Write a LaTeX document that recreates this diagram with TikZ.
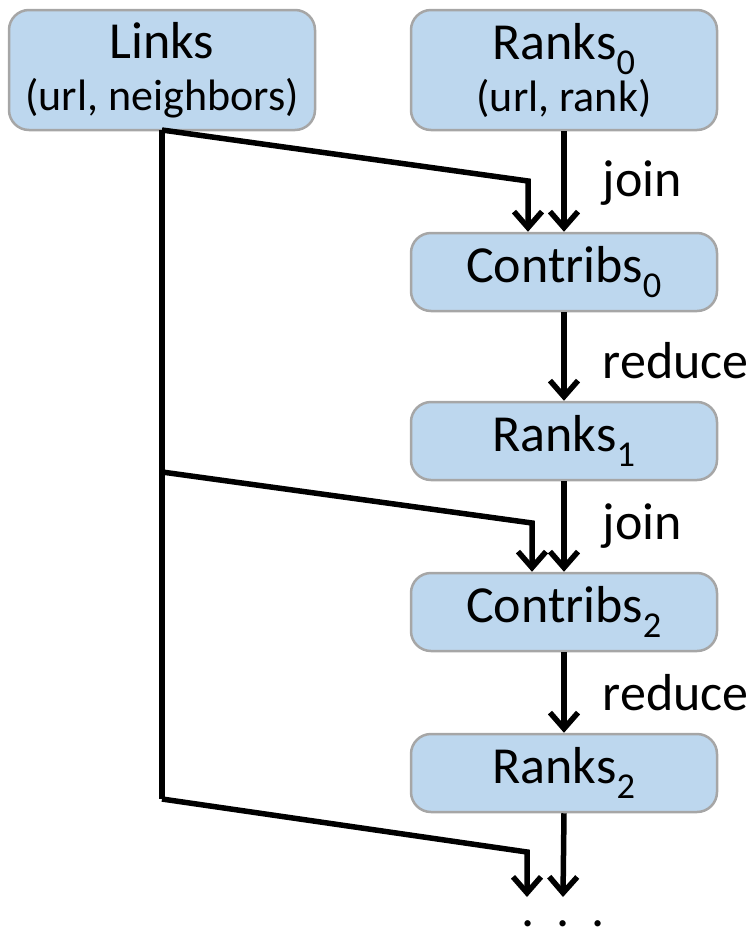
\documentclass[tikz,border=0pt]{standalone}
\usepackage{fontspec}
\setmainfont{Carlito}
\usetikzlibrary{arrows.meta}
\definecolor{boxfill}{HTML}{BDD7EE}
\definecolor{boxdraw}{HTML}{A6A6A6}
\tikzset{
  box/.style={draw=boxdraw, line width=2.5pt, fill=boxfill, rounded corners=20pt,
    minimum width=306pt, inner sep=0pt, align=center, font=\fontsize{52}{56}\selectfont},
  bigbox/.style={box, minimum height=120pt},
  smallbox/.style={box, minimum height=78pt},
  conn/.style={line width=5.5pt, line join=miter},
  arr/.style={conn, -{Straight Barb[length=16pt,width=28pt]}},
  lbl/.style={font=\fontsize{52}{56}\selectfont, anchor=west, inner sep=0pt}
}
\begin{document}
\begin{tikzpicture}[x=1pt,y=-1pt]
\useasboundingbox (0,0) rectangle (753,930);
\node[bigbox] (links) at (162,70) {Links\\[-4pt]{\fontsize{44}{48}\selectfont (url, neighbors)}};
\node[bigbox] (r0) at (564,70) {Ranks\textsubscript{0}\\[-4pt]{\fontsize{44}{48}\selectfont (url, rank)}};
\node[smallbox] (c0) at (564,272) {Contribs\textsubscript{0}};
\node[smallbox] (r1) at (564,441) {Ranks\textsubscript{1}};
\node[smallbox] (c2) at (564,612) {Contribs\textsubscript{2}};
\node[smallbox] (r2) at (564,773) {Ranks\textsubscript{2}};

\coordinate (top) at (162,130);
\coordinate (j1) at (528,181);
\coordinate (b2) at (162,472);
\coordinate (j2) at (532,523);
\coordinate (b3) at (162,799);
\coordinate (j3) at (527,852);
\coordinate (e1) at (527,897);
\coordinate (e2) at (563,897);

% Links feed lines
\draw[conn] (top) -- (b3);
\draw[arr] (top) -- (j1) -- (j1 |- c0.north);
\draw[arr] (b2) -- (j2) -- (j2 |- c2.north);
\draw[arr] (b3) -- (j3) -- (e1);

% main chain
\draw[arr] (r0.south) -- (c0.north) node[lbl, pos=0.52, xshift=36pt] (l1) {join};
\draw[arr] (c0.south) -- (r1.north) node[lbl, pos=0.55, xshift=36pt] (l2) {reduce};
\draw[arr] (r1.south) -- (c2.north) node[lbl, pos=0.5, xshift=36pt] (l3) {join};
\draw[arr] (c2.south) -- (r2.north) node[lbl, pos=0.5, xshift=36pt] (l4) {reduce};
\draw[arr] (r2.south) -- (e2);

\node[font=\fontsize{52}{56}\selectfont, anchor=base, inner sep=0pt] (dots) at (563,926) {.\hspace{22pt}.\hspace{22pt}.};
\end{tikzpicture}
\end{document}
